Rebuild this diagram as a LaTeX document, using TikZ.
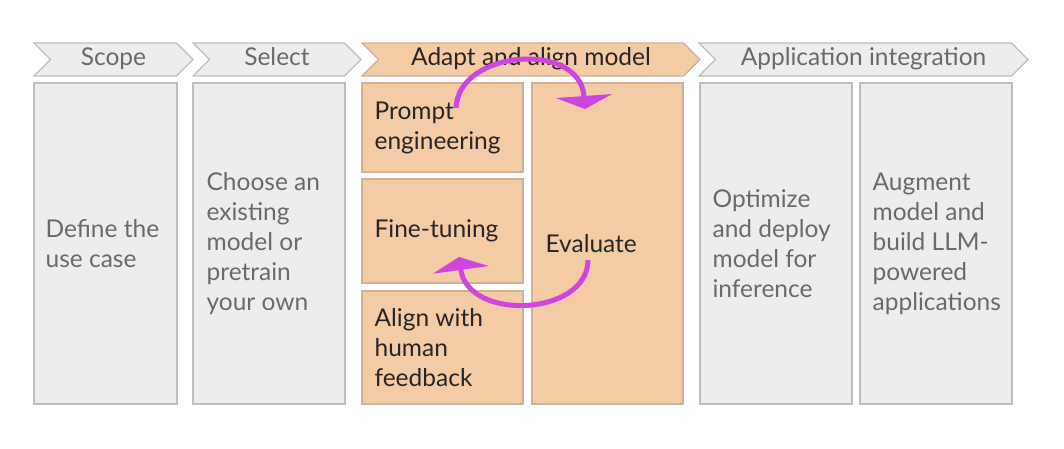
\documentclass[tikz,border=0pt]{standalone}
\usepackage{fontspec}
\setmainfont{Lato}
\usepackage{tikz}
\usetikzlibrary{arrows.meta,positioning,shapes.symbols}
\definecolor{StepGrey}{HTML}{EDEDED}
\definecolor{StepLine}{HTML}{BEBEBE}
\definecolor{StepText}{HTML}{6A6A6A}
\definecolor{AdaptBG}{HTML}{F3CBA4}
\definecolor{AdaptLine}{HTML}{CDB29A}
\definecolor{AdaptText}{HTML}{262626}
\definecolor{LoopPink}{HTML}{CF45E0}

\begin{document}
\begin{tikzpicture}[x=1pt, y=-1pt,
  hd/.style={shape=signal, signal to=east, signal from=west,
             draw=StepLine, fill=StepGrey, text=StepText, line width=1.2pt,
             minimum height=33pt, inner sep=0pt, text height=17pt, text depth=5pt,
             font=\fontsize{24.5}{28}\selectfont},
  bx/.style={draw=StepLine, fill=StepGrey, line width=1.2pt, inner sep=0pt},
  tx/.style={inner sep=0pt, align=left, text=StepText,
             font=\fontsize{24.5}{30}\selectfont},
  ad/.style={draw=AdaptLine, fill=AdaptBG, text=AdaptText},
  loop/.style={LoopPink, line width=5pt,
               -{Triangle[width=56pt,length=13pt]}}]
  \fill[white] (0,0) rectangle (1064,448);
  \useasboundingbox (0,0) rectangle (1064,448);
  % stage headers
  \node[hd, minimum width=159pt] (scopeHd)  at (113.5,59.5) {Scope};
  \node[hd, minimum width=168pt] (selectHd) at (277,59.5)   {Select};
  \node[hd, ad, minimum width=338pt] (adaptHd) at (531,59.5) {Adapt and align model};
  \node[hd, minimum width=329pt] (appHd)    at (863.5,59.5) {Application integration};
  % stage boxes
  \node[bx, minimum width=143pt, minimum height=321pt] (scopeBox)  at (105.5,243.5) {};
  \node[bx, minimum width=152pt, minimum height=321pt] (selectBox) at (269,243.5)   {};
  \node[bx, ad, minimum width=161pt, minimum height=89pt]  (promptBox) at (442.5,127.5) {};
  \node[bx, ad, minimum width=161pt, minimum height=104pt] (fineBox)   at (442.5,231)   {};
  \node[bx, ad, minimum width=161pt, minimum height=113pt] (alignBox)  at (442.5,347.5) {};
  \node[bx, ad, minimum width=151pt, minimum height=321pt] (evalBox)   at (607.5,243.5) {};
  \node[bx, minimum width=152pt, minimum height=321pt] (deployBox)  at (776,243.5) {};
  \node[bx, minimum width=152pt, minimum height=321pt] (augmentBox) at (936,243.5) {};
  % texts
  \node[tx, right=12pt of scopeBox.west]  (scopeTx)  {Define the\\use case};
  \node[tx, right=14pt of selectBox.west] (selectTx) {Choose an\\existing\\model or\\pretrain\\your own};
  \node[tx, ad, draw=none, right=13pt of promptBox.west] (promptTx) {Prompt\\engineering};
  \node[tx, ad, draw=none, right=13pt of fineBox.west]   (fineTx)   {Fine-tuning};
  \node[tx, ad, draw=none, right=13pt of alignBox.west]  (alignTx)  {Align with\\human\\feedback};
  \node[tx, ad, draw=none, right=14pt of evalBox.west]   (evalTx)   {Evaluate};
  \node[tx, right=13pt of deployBox.west]  (deployTx)  {Optimize\\and deploy\\model for\\inference};
  \node[tx, right=13pt of augmentBox.west] (augmentTx) {Augment\\model and\\build LLM-\\powered\\applications};
  % evaluation loop
  \coordinate (loopA) at (456,108);
  \coordinate (loopB) at (585,109);
  \coordinate (loopC) at (588,260);
  \coordinate (loopD) at (459,257);
  \draw[loop] (loopA) .. controls (458,50) and (580,40) .. (loopB);
  \draw[loop] (loopC) .. controls (588,316) and (468,322) .. (loopD);
\end{tikzpicture}
\end{document}
